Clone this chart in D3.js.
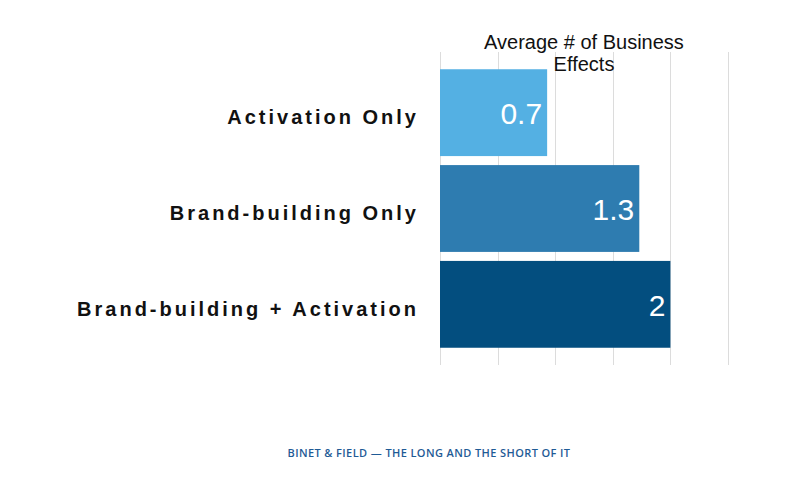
<!DOCTYPE html>
<html>
<head>
<meta charset="utf-8">
<script src="https://cdn.jsdelivr.net/npm/d3@7"></script>
<style>
  body { margin: 0; background: #fff; }
  svg { display: block; }
</style>
</head>
<body>
<div id="chart"></div>
<script>
// chart data
const categories = ["Activation Only", "Brand-building Only", "Brand-building + Activation"];
// bar lengths as drawn against the gridlines (0.5 per gridline)
const barValues = [0.93, 1.73, 2.0];
// labels printed on the bars
const valueLabels = ["0.7", "1.3", "2"];
const barColors = ["#54b0e3", "#2e7cb0", "#034e7f"];
const gridTicks = [0, 0.5, 1, 1.5, 2, 2.5];

const width = 800, height = 492;
const margin = { top: 52, right: 72, bottom: 127, left: 440 };

const svg = d3.select("#chart").append("svg")
  .attr("width", width)
  .attr("height", height);

const x = d3.scaleLinear()
  .domain([0, 2.5])
  .range([margin.left, width - margin.right]);

const y = d3.scaleBand()
  .domain(categories)
  .range([margin.top, height - margin.bottom])
  .paddingInner(0.094)
  .paddingOuter(0.18);

// vertical gridlines
svg.append("g")
  .selectAll("line")
  .data(gridTicks)
  .join("line")
  .attr("x1", d => Math.round(x(d)) + 0.5)
  .attr("x2", d => Math.round(x(d)) + 0.5)
  .attr("y1", margin.top)
  .attr("y2", height - margin.bottom)
  .attr("stroke", "#dcdcdc")
  .attr("stroke-width", 1);

// bars
svg.selectAll(".bar")
  .data(categories)
  .join("rect")
  .attr("class", "bar")
  .attr("x", x(0))
  .attr("y", d => y(d))
  .attr("width", (d, i) => x(barValues[i]) - x(0))
  .attr("height", y.bandwidth())
  .attr("fill", (d, i) => barColors[i]);

// value labels inside bars
svg.selectAll(".value-label")
  .data(categories)
  .join("text")
  .attr("class", "value-label")
  .attr("x", (d, i) => x(barValues[i]) - 5)
  .attr("y", d => y(d) + y.bandwidth() / 2 + 11.5)
  .attr("text-anchor", "end")
  .style("font-family", "'Liberation Sans', Arial, sans-serif")
  .style("font-size", "30px")
  .attr("fill", "#fff")
  .text((d, i) => valueLabels[i]);

// category labels
svg.selectAll(".cat-label")
  .data(categories)
  .join("text")
  .attr("class", "cat-label")
  .attr("x", 419)
  .attr("y", d => y(d) + y.bandwidth() / 2 + 11.5)
  .attr("text-anchor", "end")
  .style("font-family", "'Liberation Sans', Arial, sans-serif")
  .style("font-size", "20px")
  .style("font-weight", "bold")
  .style("letter-spacing", "3px")
  .attr("fill", "#111")
  .text(d => d);

// title (two lines)
const title = svg.append("text")
  .attr("x", 584)
  .attr("y", 49)
  .attr("text-anchor", "middle")
  .style("font-family", "'Liberation Sans', Arial, sans-serif")
  .style("font-size", "20px")
  .attr("fill", "#111");
title.append("tspan").attr("x", 584).attr("dy", 0).text("Average # of Business");
title.append("tspan").attr("x", 584).attr("dy", 22).text("Effects");

// source footer
svg.append("text")
  .attr("x", 429)
  .attr("y", 457)
  .attr("text-anchor", "middle")
  .style("font-family", "'Open Sans', sans-serif")
  .style("font-size", "11px")
  .style("font-weight", "600")
  .style("letter-spacing", "0.4px")
  .attr("fill", "#1f5b96")
  .text("BINET & FIELD — THE LONG AND THE SHORT OF IT");
</script>
</body>
</html>
